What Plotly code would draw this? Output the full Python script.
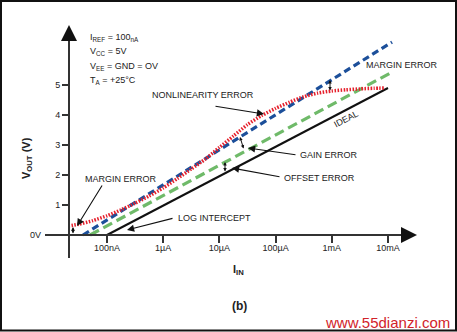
import plotly.graph_objects as go

W, H = 457, 332

# ---- data ----
ideal_current = [1e-7, 1e-2]
ideal_vout = [0.0, 4.9]

gain_current = [3.74e-8, 1.18e-2]          # blue dashed
gain_vout = [0.0, 6.43]

offset_current = [5.0e-8, 1.18e-2]         # green dashed
offset_vout = [0.0, 5.43]

actual_current = [2.04e-8, 3.16e-8, 5.62e-8, 1e-7, 1.78e-7, 3.16e-7, 5.62e-7,
                  1e-6, 1.78e-6, 3.16e-6, 5.62e-6, 1e-5, 1.78e-5, 3.16e-5,
                  5.62e-5, 1e-4, 1.78e-4, 3.16e-4, 5.62e-4, 1e-3, 1.78e-3,
                  3.16e-3, 5.62e-3, 8.9e-3]
actual_vout = [0.30, 0.36, 0.48, 0.64, 0.84, 1.06, 1.30, 1.57, 1.88, 2.20,
               2.53, 2.92, 3.30, 3.68, 3.98, 4.22, 4.43, 4.61, 4.73, 4.80,
               4.84, 4.87, 4.89, 4.90]

x_tickvals = [1e-7, 1e-6, 1e-5, 1e-4, 1e-3, 1e-2]
x_ticktext = ["100nA", "1\u00b5A", "10\u00b5A", "100\u00b5A", "1mA", "10mA"]
y_tickvals = [0, 1, 2, 3, 4, 5]
y_ticktext = ["", "1", "2", "3", "4", "5"]
y_zero_label = "0V"

# ---- pixel helpers (layout only) ----
def fx(px):
    return px / W

def fy(py):
    return 1 - py / H

X_LEFT, X_RIGHT = 45, 415
Y_TOP, Y_BOT = 27, 258
PX_DEC = 56.2
PX_V = 30.0
ZERO_Y = 235
X0_LOG = -7.0
X0_PX = 107

xr = [X0_LOG + (X_LEFT - X0_PX) / PX_DEC, X0_LOG + (X_RIGHT - X0_PX) / PX_DEC]
yr = [(ZERO_Y - Y_BOT) / PX_V, (ZERO_Y - Y_TOP) / PX_V]

def lx(px):
    return X0_LOG + (px - X0_PX) / PX_DEC

def vy(py):
    return (ZERO_Y - py) / PX_V

FONT = "Liberation Sans, Arial, sans-serif"
TXT = "#222222"
AX = "#333333"

fig = go.Figure()
fig.add_trace(go.Scatter(x=ideal_current, y=ideal_vout, mode="lines",
                         line=dict(color="#111111", width=2)))
fig.add_trace(go.Scatter(x=offset_current, y=offset_vout, mode="lines",
                         line=dict(color="#6fba69", width=3.2, dash="10px,5px")))
fig.add_trace(go.Scatter(x=gain_current, y=gain_vout, mode="lines",
                         line=dict(color="#1c4f9a", width=3.2, dash="7px,4px")))
fig.add_trace(go.Scatter(x=actual_current, y=actual_vout, mode="lines",
                         line=dict(color="#e5202c", width=3.5, dash="1.5px,1.5px",
                                   shape="spline", smoothing=0.6)))

ann = []

def text(px, py, s, size=9, bold=False, xanchor="center", angle=0, color=TXT):
    if bold:
        s = "<b>" + s + "</b>"
    ann.append(dict(xref="paper", yref="paper", x=fx(px), y=fy(py), text=s,
                    showarrow=False, xanchor=xanchor, yanchor="middle",
                    textangle=angle, font=dict(family=FONT, size=size, color=color)))

def arrow(hx, hy, tx, ty, both=False, size=1.3, width=1.1):
    ann.append(dict(xref="x", yref="y", x=lx(hx), y=vy(hy), ax=tx - hx, ay=ty - hy,
                    text="", showarrow=True, arrowhead=2, arrowsize=size,
                    arrowwidth=width, arrowcolor="#111111",
                    arrowside="end+start" if both else "end",
                    startarrowhead=2, startarrowsize=size))

# condition text
text(88, 38, "I<sub>REF</sub> = 100<sub>nA</sub>", xanchor="left")
text(88, 52, "V<sub>CC</sub> = 5V", xanchor="left")
text(88, 66, "V<sub>EE</sub> = GND = OV", xanchor="left")
text(88, 80, "T<sub>A</sub> = +25\u00b0C", xanchor="left")

text(203, 95, "NONLINEARITY ERROR")
text(402, 65, "MARGIN ERROR")
text(121, 179, "MARGIN ERROR")
text(329, 155, "GAIN ERROR")
text(319, 178, "OFFSET ERROR")
text(214, 218, "LOG INTERCEPT")
text(346, 119, "IDEAL", angle=-28)
text(43, 235, y_zero_label, xanchor="right")

text(27, 158, "V<sub>OUT</sub> (V)", size=11, bold=True, angle=-90)
text(238, 270, "I<sub>IN</sub>", size=11, bold=True)
text(240, 306, "(b)", size=12, bold=True)
text(452, 322, "www.55dianzi.com", size=15, xanchor="right", color="#d2232a")

# leader arrows
arrow(264, 114, 214, 106)
arrow(77, 226, 103, 184)
arrow(127, 230, 174, 218)
arrow(248, 148, 297, 155)
arrow(232, 168, 281, 177)

# small double arrows
arrow(330, 80, 330, 92, both=True, size=0.7, width=1)
arrow(73, 227, 73, 235, both=True, size=0.7, width=1)
arrow(225, 162, 225, 173, both=True, size=0.7, width=1)
arrow(240, 137, 244, 150, both=True, size=0.7, width=1)

# axis arrowheads
ann.append(dict(xref="paper", yref="paper", x=fx(69), y=fy(25), ax=0, ay=14,
                text="", showarrow=True, arrowhead=2, arrowsize=1.6, arrowwidth=2,
                arrowcolor="#111111"))
ann.append(dict(xref="paper", yref="paper", x=fx(417), y=fy(235), ax=-14, ay=0,
                text="", showarrow=True, arrowhead=2, arrowsize=1.6, arrowwidth=2,
                arrowcolor="#111111"))

shapes = [dict(type="rect", xref="paper", yref="paper", x0=fx(1), y0=fy(1),
               x1=fx(456), y1=fy(330.5), line=dict(color="#111111", width=2))]

fig.update_layout(
    width=W, height=H, margin=dict(l=0, r=0, t=0, b=0),
    paper_bgcolor="white", plot_bgcolor="white", showlegend=False,
    annotations=ann, shapes=shapes,
    xaxis=dict(type="log", range=xr, domain=[fx(X_LEFT), fx(X_RIGHT)],
               anchor="free", position=fy(ZERO_Y),
               showgrid=False, zeroline=False, showline=True, linecolor=AX, linewidth=2,
               ticks="outside", ticklen=7, tickwidth=1.5, tickcolor=AX,
               tickvals=x_tickvals, ticktext=x_ticktext, ticklabelstandoff=-3,
               tickfont=dict(family=FONT, size=9, color=TXT)),
    yaxis=dict(range=yr, domain=[fy(Y_BOT), fy(Y_TOP)],
               anchor="free", position=fx(69),
               showgrid=False, zeroline=False, showline=True, linecolor=AX, linewidth=2,
               ticks="outside", ticklen=6, tickwidth=1.5, tickcolor=AX,
               tickvals=y_tickvals, ticktext=y_ticktext,
               tickfont=dict(family=FONT, size=9, color=TXT)),
)

fig.write_html("out.html")
